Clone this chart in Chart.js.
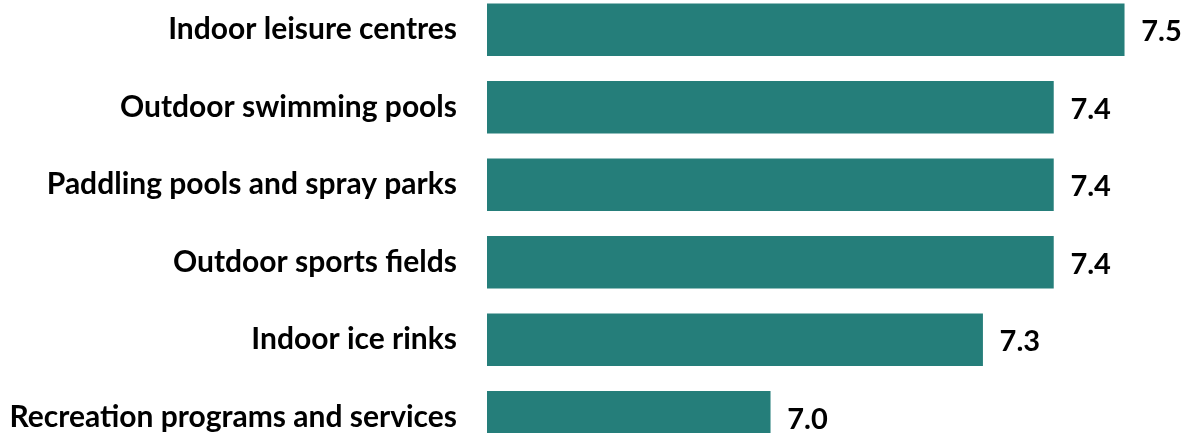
<!DOCTYPE html>
<html>
<head>
<meta charset="utf-8">
<script src="https://cdn.jsdelivr.net/npm/chart.js@4/dist/chart.umd.min.js"></script>
<style>
  html, body { margin: 0; padding: 0; background: #fff; overflow: hidden; }
  #chart { position: absolute; left: 0; top: -9px; }
</style>
</head>
<body>
<canvas id="chart" width="1200" height="465"></canvas>
<script>
const facilities = [
    "Indoor leisure centres",
    "Outdoor swimming pools",
    "Paddling pools and spray parks",
    "Outdoor sports fields",
    "Indoor ice rinks",
    "Recreation programs and services"
];
const scores = [7.5, 7.4, 7.4, 7.4, 7.3, 7.0];

const barColor = '#257e7a';
const labelFont = 'Lato, "Open Sans", sans-serif';

// value labels at the end of each bar
const valueLabels = {
    id: 'valueLabels',
    afterDatasetsDraw(chart) {
        const ctx = chart.ctx;
        const meta = chart.getDatasetMeta(0);
        ctx.save();
        ctx.font = 'bold 29px ' + labelFont;
        ctx.fillStyle = '#000';
        ctx.textAlign = 'left';
        ctx.textBaseline = 'middle';
        meta.data.forEach((bar, i) => {
            ctx.fillText(scores[i].toFixed(1), bar.x + 17, bar.y + 2);
        });
        ctx.restore();
    }
};

const chart = new Chart(document.getElementById('chart').getContext('2d'), {
    type: 'bar',
    data: {
        labels: facilities,
        datasets: [{
            data: scores,
            backgroundColor: barColor,
            barThickness: 52
        }]
    },
    options: {
        responsive: false,
        indexAxis: 'y',
        animation: false,
        layout: { padding: { top: 0, bottom: 0, left: 0, right: 5 } },
        plugins: {
            legend: { display: false },
            tooltip: { enabled: false }
        },
        scales: {
            x: {
                display: false,
                min: 6.6,
                max: 7.6
            },
            y: {
                grid: { display: false, drawTicks: false },
                border: { display: false },
                ticks: {
                    color: '#000',
                    padding: 30,
                    font: { family: labelFont, size: 30, weight: 'bold' }
                },
                afterFit(axis) {
                    axis.width = 487;
                    axis.paddingTop = 0;
                    axis.paddingBottom = 0;
                }
            }
        }
    },
    plugins: [valueLabels]
});
</script>
</body>
</html>
